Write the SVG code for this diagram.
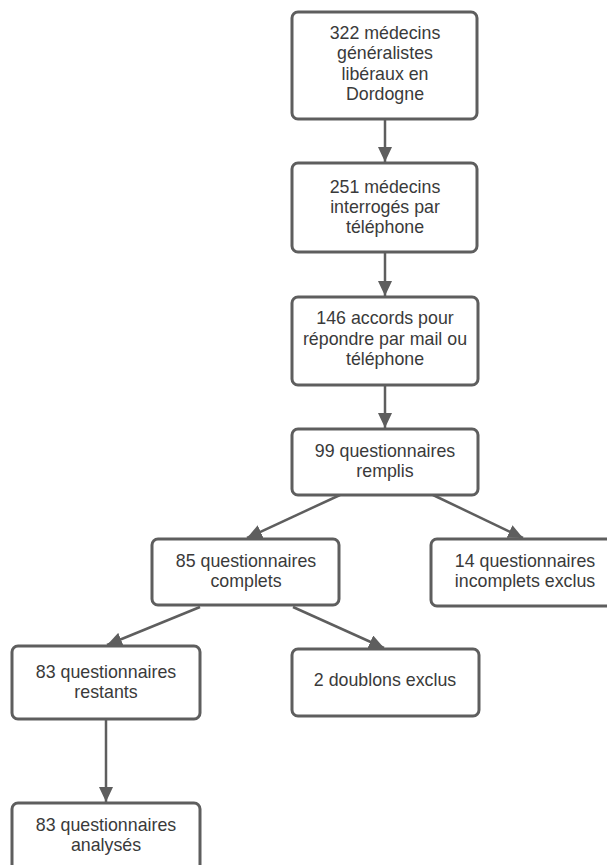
<svg xmlns="http://www.w3.org/2000/svg" width="607" height="865" viewBox="0 0 607 865">
<defs>
<marker id="ah" markerUnits="userSpaceOnUse" markerWidth="16" markerHeight="14" refX="15" refY="7" orient="auto">
<path d="M0,0 L15,7 L0,14 Z" fill="#5e5e5e"/>
</marker>
<style>
.box{fill:#ffffff;stroke:#5e5e5e;stroke-width:3}
.t{font-family:"Liberation Sans",Arial,sans-serif;font-size:17.8px;fill:#3a3a3a;text-anchor:middle}
.c{stroke:#5e5e5e;stroke-width:2.5;fill:none;marker-end:url(#ah)}
</style>
</defs>
<rect width="607" height="865" fill="#ffffff"/>
<g id="connectors">
<line class="c" x1="385" y1="120" x2="385" y2="162"/>
<line class="c" x1="385" y1="253" x2="385" y2="296"/>
<line class="c" x1="385" y1="386" x2="385" y2="428"/>
<line class="c" x1="340" y1="495" x2="247" y2="538"/>
<line class="c" x1="433" y1="495" x2="523" y2="538"/>
<line class="c" x1="200" y1="607" x2="107" y2="645"/>
<line class="c" x1="293" y1="607" x2="384" y2="648"/>
<line class="c" x1="106" y1="720" x2="106" y2="802"/>
</g>
<g id="n1">
<rect class="box" x="292" y="12" width="185" height="107" rx="6"/>
<text class="t" x="385" y="39">322 médecins</text>
<text class="t" x="385" y="59">généralistes</text>
<text class="t" x="385" y="80">libéraux en</text>
<text class="t" x="385" y="100">Dordogne</text>
</g>
<g id="n2">
<rect class="box" x="292" y="163" width="185" height="89" rx="6"/>
<text class="t" x="385" y="193">251 médecins</text>
<text class="t" x="385" y="213">interrogés par</text>
<text class="t" x="385" y="233">téléphone</text>
</g>
<g id="n3">
<rect class="box" x="292" y="297" width="186" height="88" rx="6"/>
<text class="t" x="385" y="324">146 accords pour</text>
<text class="t" x="385" y="345">répondre par mail ou</text>
<text class="t" x="385" y="365">téléphone</text>
</g>
<g id="n4">
<rect class="box" x="292" y="429" width="186" height="66" rx="6"/>
<text class="t" x="385" y="457">99 questionnaires</text>
<text class="t" x="385" y="477">remplis</text>
</g>
<g id="n5">
<rect class="box" x="152" y="539" width="187" height="66" rx="6"/>
<text class="t" x="246" y="567">85 questionnaires</text>
<text class="t" x="246" y="587">complets</text>
</g>
<g id="n6">
<rect class="box" x="431" y="539" width="187" height="67" rx="6"/>
<text class="t" x="525" y="567">14 questionnaires</text>
<text class="t" x="525" y="587">incomplets exclus</text>
</g>
<g id="n7">
<rect class="box" x="12" y="646" width="188" height="73" rx="6"/>
<text class="t" x="106" y="678">83 questionnaires</text>
<text class="t" x="106" y="698">restants</text>
</g>
<g id="n8">
<rect class="box" x="292" y="649" width="187" height="67" rx="6"/>
<text class="t" x="385" y="686">2 doublons exclus</text>
</g>
<g id="n9">
<rect class="box" x="12" y="803" width="188" height="80" rx="6"/>
<text class="t" x="106" y="831">83 questionnaires</text>
<text class="t" x="106" y="851">analysés</text>
</g>
</svg>
